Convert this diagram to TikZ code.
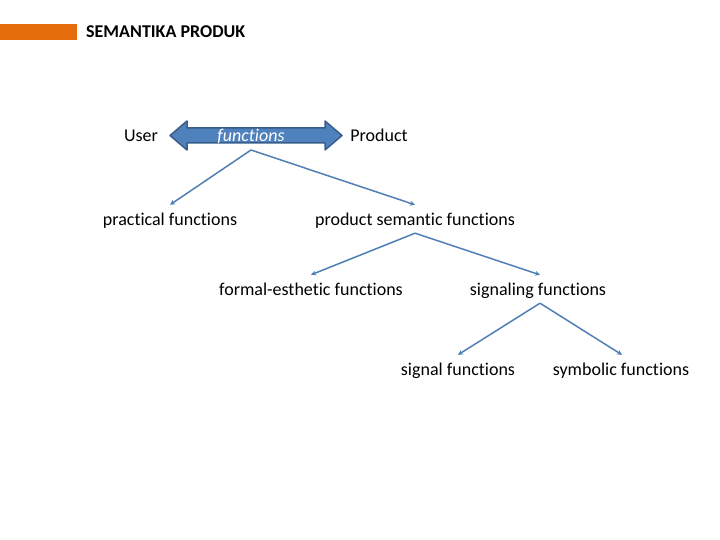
\documentclass[tikz,border=0pt]{standalone}
\usepackage{fontspec}
\setmainfont[Ligatures=NoCommon]{Carlito}
\usetikzlibrary{arrows.meta}
\definecolor{orbar}{HTML}{E46C0A}
\definecolor{afill}{HTML}{4F81BD}
\definecolor{aline}{HTML}{385D8A}
\definecolor{conn}{HTML}{4F7FB3}
\tikzset{
  lbl/.style={font=\fontsize{18}{21}\selectfont, inner sep=0pt, text height=13pt, text depth=0pt, minimum height=28pt, anchor=center},
  conn/.style={draw=conn, line width=1.5pt, -{Stealth[length=5pt,width=5pt]}}
}
\begin{document}
\begin{tikzpicture}[x=1pt,y=-1pt]
\useasboundingbox (0,0) rectangle (720,540);
\fill[orbar] (0,24) rectangle (77,40);
\node[anchor=west, inner sep=0pt, text height=11pt, text depth=0pt, font=\fontsize{18}{21}\selectfont\bfseries] (title) at (86,32) {SEMANTIKA PRODUK};
% double arrow
\filldraw[fill=afill, draw=aline, line width=1.5pt, line join=round]
  (170,135.5) -- (187,121) -- (187,128) -- (325,128) -- (325,121) -- (342,135.5)
  -- (325,150) -- (325,143) -- (187,143) -- (187,150) -- cycle;
\node[font=\fontsize{18}{21}\selectfont\itshape, text=white, inner sep=0pt, text height=13pt, text depth=0pt] (fn) at (251,135) {functions};
\coordinate (fnb) at (251,150);
\node[lbl] (user) at (141,135) {User};
\node[lbl] (prod) at (379,135) {Product};
\node[lbl] (prac) at (170,219) {practical functions};
\node[lbl] (psf) at (415,219) {product semantic functions};
\node[lbl] (fef) at (311,289) {formal-esthetic functions};
\node[lbl] (sig) at (538,289) {signaling functions};
\node[lbl] (sgf) at (458,369) {signal functions};
\node[lbl] (sym) at (621,369) {symbolic functions};
\draw[conn] (fnb) -- (prac.north);
\draw[conn] (fnb) -- (psf.north);
\draw[conn] (psf.south) -- (fef.north);
\draw[conn] (psf.south) -- ([xshift=2pt]sig.north);
\draw[conn] ([xshift=2pt]sig.south) -- (sgf.north);
\draw[conn] ([xshift=2pt]sig.south) -- ([xshift=1pt]sym.north);
\end{tikzpicture}
\end{document}
